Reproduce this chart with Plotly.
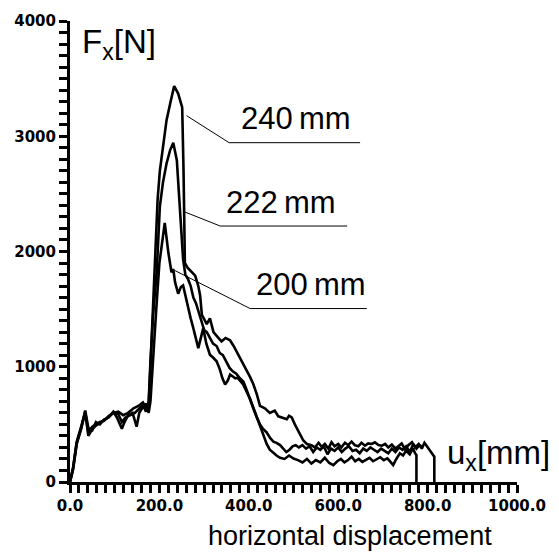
import plotly.graph_objects as go

# ---- data ----
x_240 = [0, 7, 15, 25, 34, 41, 50, 58, 67, 76, 86, 97, 108, 119, 130, 142, 153, 163, 170, 176,
         180, 185, 190, 196, 201, 209, 216, 225, 233, 242, 251, 254, 257, 263, 270, 280, 287, 291,
         295, 301, 306, 313, 321, 330, 339, 348, 358, 366, 373, 384, 395, 403, 410, 418, 425, 436,
         447, 458, 466, 474, 485, 490, 496, 503, 507, 515, 522, 530,
         540, 548, 556, 563, 570, 578, 585, 592, 600, 607, 615, 622, 630, 637, 645, 652, 660, 667,
         675, 682, 690, 698, 705, 712, 720, 728, 735, 742, 750, 757, 765, 772, 780, 787, 793, 800,
         806, 812, 815, 815]
y_240 = [0, 120, 340, 470, 620, 470, 450, 520, 500, 540, 560, 600, 610, 580, 600, 640, 660, 690, 640, 660,
         1000, 1500, 2000, 2450, 2700, 2950, 3140, 3300, 3435, 3370, 3250, 2700, 1900, 1860, 1830, 1790, 1700, 1620,
         1450, 1400, 1370, 1420, 1300, 1260, 1220, 1250, 1230, 1180, 1130, 1050, 960, 910, 850, 760, 660, 640,
         600, 620, 570, 560, 545, 575, 560, 500, 470, 400, 360, 330,
         320, 300, 340, 305, 330, 290, 345, 310, 330, 300, 340, 320, 350, 320, 310, 340, 315, 335,
         330, 345, 320, 315, 330, 300, 325, 290, 310, 335, 280, 320, 345, 300, 330, 290, 340, 300,
         260, 230, 220, 0]

x_222 = [0, 7, 15, 25, 34, 41, 50, 58, 67, 76, 86, 97, 108, 116, 124, 135, 145, 153, 163, 170,
         176, 180, 186, 194, 201, 208, 216, 224, 231, 239, 246, 253, 258, 264, 270, 276, 282, 288,
         294, 300, 306, 313, 320, 328, 335, 342, 350, 357, 364, 372, 380, 388, 395, 402, 410, 418,
         425, 432, 440, 448, 455, 462, 470, 477, 484, 491, 498, 505, 512,
         520, 528, 536, 544, 552, 560, 568, 576, 584, 592, 600, 608, 616, 624, 632, 640, 648, 656,
         664, 672, 680, 688, 696, 704, 712, 720, 728, 736, 744, 752, 760, 768, 775, 782, 790]
y_222 = [0, 130, 350, 480, 600, 430, 480, 500, 520, 530, 570, 600, 590, 520, 560, 580, 600, 630, 670, 610,
         700, 1050, 1450, 1820, 2390, 2600, 2764, 2880, 2944, 2792, 2395, 1934, 1800, 1760, 1700, 1600, 1550, 1480,
         1400, 1320, 1300, 1250, 1200, 1180, 1120, 1100, 1040, 990, 960, 940, 900, 870, 800, 720, 640, 560,
         500, 460, 430, 380, 350, 340, 320, 290, 260, 280, 310, 320, 300,
         320, 290, 310, 260, 300, 280, 310, 240, 290, 270, 300, 260, 290, 310, 270, 280, 250, 290,
         270, 300, 280, 260, 290, 270, 250, 290, 260, 300, 280, 310, 260, 330, 290, 320, 300]

x_200 = [0, 7, 15, 25, 34, 41, 50, 58, 67, 76, 86, 97, 105, 112, 116, 122, 130, 140, 149, 155,
         163, 170, 176, 180, 186, 193, 200, 206, 212, 220, 227, 231, 235, 242, 248, 253, 259, 265,
         270, 276, 281, 287, 292, 298, 305, 313, 320, 328, 335, 341, 347, 353, 358, 364, 370, 375,
         380, 387, 393, 398, 403, 410, 418, 425, 432, 440, 447, 455, 462, 470, 480, 490, 500,
         510, 520, 530, 540, 550, 560, 570, 580, 589, 598, 606, 614, 622, 630, 638, 646, 654, 662,
         670, 678, 686, 694, 702, 710, 717, 723, 730, 738, 745, 752, 760, 767, 772, 775, 775]
y_200 = [0, 110, 330, 460, 610, 400, 460, 490, 510, 540, 560, 610, 560, 490, 463, 520, 580, 600, 480, 600,
         650, 680, 600, 700, 1100, 1500, 1900, 2100, 2249, 1991, 1820, 1848, 1734, 1634, 1691, 1705, 1600, 1505,
         1420, 1333, 1250, 1162, 1240, 1333, 1200, 1105, 1080, 1047, 980, 900, 847, 880, 933, 920, 900, 904,
         880, 850, 800, 761, 720, 646, 560, 480, 400, 330, 280, 250, 230, 210, 200, 230, 203,
         190, 170, 200, 160, 190, 170, 210, 165, 146, 180, 200, 170, 190, 220, 180, 200, 175, 195,
         210, 180, 200, 215, 190, 205, 175, 146, 200, 249, 230, 270, 240, 290, 250, 232, 0]

series = [("240 mm", x_240, y_240), ("222 mm", x_222, y_222), ("200 mm", x_200, y_200)]

# labels with leader lines: (text, text x, text y, leader start x, start y, knee x, knee y, end x)
labels = [
    ("240\u2009mm", 506, 2990, 261, 3178, 356, 2944, 649),
    ("222\u2009mm", 472, 2268, 253, 2349, 336, 2221, 620),
    ("200\u2009mm", 539, 1552, 235, 1834, 403, 1505, 664),
]

x_tick_step = 200
y_tick_step = 1000

fig = go.Figure()
for name, xs, ys in series:
    fig.add_trace(go.Scatter(x=xs, y=ys, mode="lines", name=name,
                             line=dict(color="black", width=2.6), showlegend=False,
                             cliponaxis=False))

txt_font = dict(family="Liberation Sans, Arial", color="black")
for t, tx, ty, sx, sy, kx, ky, ex in labels:
    fig.add_shape(type="line", x0=sx, y0=sy, x1=kx, y1=ky, line=dict(color="black", width=1))
    fig.add_shape(type="line", x0=kx, y0=ky, x1=ex, y1=ky, line=dict(color="black", width=1))
    fig.add_annotation(x=tx, y=ty, text=t, showarrow=False, xanchor="center", yanchor="bottom",
                       font=dict(size=31, **txt_font), borderpad=0)

fig.add_annotation(xref="paper", yref="paper", x=0.022, y=1.0, text="F<sub>x</sub>[N]",
                   showarrow=False, xanchor="left", yanchor="top", font=dict(size=33, **txt_font))
fig.add_annotation(xref="x", yref="y", x=839, y=232, text="u<sub>x</sub>[mm]",
                   showarrow=False, xanchor="left", yanchor="middle", font=dict(size=33, **txt_font))
fig.add_annotation(xref="paper", yref="paper", x=(350 - 70) / 447, y=-0.117,
                   text="horizontal displacement", showarrow=False, xanchor="center",
                   yanchor="middle", font=dict(size=27, **txt_font))

tickfont = dict(family="DejaVu Sans", size=15, color="black", weight="bold")
common = dict(showline=True, linecolor="black", linewidth=3, ticks="outside", ticklen=8,
              tickwidth=3, tickcolor="black", showgrid=False, zeroline=False, tickfont=tickfont)
fig.update_xaxes(range=[0, 1000], tickmode="linear", tick0=0, dtick=x_tick_step, tickformat=".1f",
                 minor=dict(dtick=20, ticks="outside", ticklen=8, tickwidth=3,
                            tickcolor="black", showgrid=False), **common)
fig.update_yaxes(range=[0, 4000], tickmode="linear", tick0=0, dtick=y_tick_step, tickformat="d",
                 minor=dict(dtick=100, ticks="outside", ticklen=8, tickwidth=3,
                            tickcolor="black", showgrid=False), **common)
fig.update_layout(width=559, height=554, margin=dict(l=70, r=42, t=16, b=72),
                  paper_bgcolor="white", plot_bgcolor="white")
fig.write_html("out.html")
